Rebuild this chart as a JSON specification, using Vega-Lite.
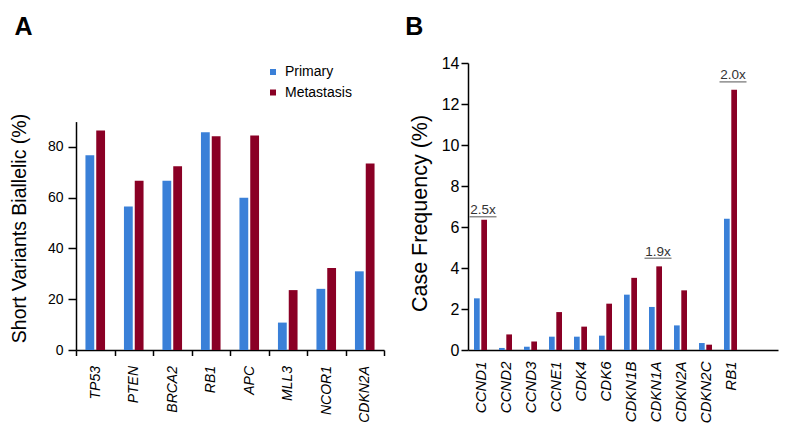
{
  "$schema": "https://vega.github.io/schema/vega-lite/v6.json",
  "background": "white",
  "padding": {"left": 9, "top": 15, "right": 5, "bottom": 5},
  "config": {
    "font": "Liberation Sans",
    "view": {"stroke": null},
    "axis": {
      "domainColor": "#000000",
      "domainWidth": 1.5,
      "tickColor": "#000000",
      "tickWidth": 1.5,
      "labelColor": "#000000",
      "titleColor": "#000000",
      "titleFontWeight": "normal",
      "grid": false
    }
  },
  "resolve": {"scale": {"xOffset": "independent"}, "legend": {"color": "independent"}},
  "datasets": {
    "a": [
      {"gene": "TP53", "group": "Primary", "value": 76.7},
      {"gene": "TP53", "group": "Metastasis", "value": 86.5},
      {"gene": "PTEN", "group": "Primary", "value": 56.5},
      {"gene": "PTEN", "group": "Metastasis", "value": 66.7},
      {"gene": "BRCA2", "group": "Primary", "value": 66.7},
      {"gene": "BRCA2", "group": "Metastasis", "value": 72.4},
      {"gene": "RB1", "group": "Primary", "value": 85.8},
      {"gene": "RB1", "group": "Metastasis", "value": 84.2},
      {"gene": "APC", "group": "Primary", "value": 60.0},
      {"gene": "APC", "group": "Metastasis", "value": 84.5},
      {"gene": "MLL3", "group": "Primary", "value": 10.8},
      {"gene": "MLL3", "group": "Metastasis", "value": 23.6},
      {"gene": "NCOR1", "group": "Primary", "value": 24.1},
      {"gene": "NCOR1", "group": "Metastasis", "value": 32.3},
      {"gene": "CDKN2A", "group": "Primary", "value": 31.0},
      {"gene": "CDKN2A", "group": "Metastasis", "value": 73.5}
    ],
    "b": [
      {"gene": "CCND1", "group": "Primary", "value": 2.52},
      {"gene": "CCND1", "group": "Metastasis", "value": 6.35},
      {"gene": "CCND2", "group": "Primary", "value": 0.1},
      {"gene": "CCND2", "group": "Metastasis", "value": 0.76},
      {"gene": "CCND3", "group": "Primary", "value": 0.16},
      {"gene": "CCND3", "group": "Metastasis", "value": 0.42},
      {"gene": "CCNE1", "group": "Primary", "value": 0.65},
      {"gene": "CCNE1", "group": "Metastasis", "value": 1.85},
      {"gene": "CDK4", "group": "Primary", "value": 0.65},
      {"gene": "CDK4", "group": "Metastasis", "value": 1.14},
      {"gene": "CDK6", "group": "Primary", "value": 0.7},
      {"gene": "CDK6", "group": "Metastasis", "value": 2.26},
      {"gene": "CDKN1B", "group": "Primary", "value": 2.7},
      {"gene": "CDKN1B", "group": "Metastasis", "value": 3.52},
      {"gene": "CDKN1A", "group": "Primary", "value": 2.1},
      {"gene": "CDKN1A", "group": "Metastasis", "value": 4.08},
      {"gene": "CDKN2A", "group": "Primary", "value": 1.2},
      {"gene": "CDKN2A", "group": "Metastasis", "value": 2.91},
      {"gene": "CDKN2C", "group": "Primary", "value": 0.34},
      {"gene": "CDKN2C", "group": "Metastasis", "value": 0.26},
      {"gene": "RB1", "group": "Primary", "value": 6.4},
      {"gene": "RB1", "group": "Metastasis", "value": 12.7}
    ],
    "ann": [
      {"gene": "CCND1", "label": "2.5x", "y": 6.62},
      {"gene": "CDKN1A", "label": "1.9x", "y": 4.6},
      {"gene": "RB1", "label": "2.0x", "y": 13.2}
    ]
  },
  "spacing": 20,
  "hconcat": [
    {
      "width": 308,
      "height": 287,
      "title": {"text": "A", "fontSize": 25, "fontWeight": "bold", "anchor": "start", "frame": "bounds", "offset": 23, "dx": 5, "color": "#000000"},
      "data": {"name": "a"},
      "mark": {"type": "bar"},
      "encoding": {
        "x": {
          "field": "gene", "type": "nominal", "sort": null,
          "scale": {"paddingInner": 0, "paddingOuter": 0},
          "axis": {"title": null, "labelAngle": -90, "labelAlign": "right", "labelBaseline": "middle", "labelFontStyle": "italic", "labelFontSize": 14, "tickSize": 5.5, "labelPadding": 10, "tickBand": "extent"}
        },
        "xOffset": {
          "field": "group", "type": "nominal", "sort": ["Primary", "Metastasis"],
          "scale": {"paddingInner": 0.185, "paddingOuter": 0.875}
        },
        "y": {
          "field": "value", "type": "quantitative",
          "scale": {"domain": [0, 90], "nice": false, "range": [287, 58.6]},
          "axis": {"title": "Short Variants Biallelic (%)", "values": [0, 20, 40, 60, 80], "tickSize": 8, "labelPadding": 5, "labelFontSize": 14, "titleFontSize": 19.5, "titlePadding": 18, "titleY": 165}
        },
        "color": {
          "field": "group", "type": "nominal",
          "scale": {"domain": ["Primary", "Metastasis"], "range": ["#3a80d8", "#8a0025"]},
          "legend": {"title": null, "orient": "none", "legendX": 190, "legendY": 2, "symbolType": "square", "symbolSize": 36, "symbolStrokeWidth": 0, "labelFontSize": 14, "labelColor": "#000000", "rowPadding": 6.5, "labelOffset": 5}
        }
      }
    },
    {
      "width": 310,
      "height": 287,
      "title": {"text": "B", "fontSize": 25, "fontWeight": "bold", "anchor": "start", "frame": "bounds", "offset": 15, "dx": -4, "color": "#000000"},
      "layer": [
        {
          "data": {"name": "b"},
          "mark": {"type": "bar"},
          "encoding": {
            "x": {
              "field": "gene", "type": "nominal", "sort": null,
              "scale": {"domain": ["CCND1", "CCND2", "CCND3", "CCNE1", "CDK4", "CDK6", "CDKN1B", "CDKN1A", "CDKN2A", "CDKN2C", "RB1"], "paddingInner": 0, "paddingOuter": 0.7, "align": 0},
              "axis": {"title": null, "labelAngle": -90, "labelAlign": "right", "labelBaseline": "middle", "labelFontStyle": "italic", "labelFontSize": 15, "ticks": false, "tickSize": 0, "labelPadding": 11}
            },
            "xOffset": {
              "field": "group", "type": "nominal", "sort": ["Primary", "Metastasis"],
              "scale": {"paddingInner": 0.22, "paddingOuter": 0.82}
            },
            "y": {
              "field": "value", "type": "quantitative",
              "scale": {"domain": [0, 14], "nice": false},
              "axis": {"title": "Case Frequency (%)", "values": [0, 2, 4, 6, 8, 10, 12, 14], "tickSize": 7, "labelPadding": 2, "labelFontSize": 16, "titleFontSize": 21.5, "titlePadding": 10, "titleY": 150}
            },
            "color": {"field": "group", "type": "nominal", "legend": null}
          }
        },
        {
          "data": {"name": "ann"},
          "mark": {"type": "text", "fontSize": 13.5, "color": "#333333", "baseline": "alphabetic", "dx": 2.5},
          "encoding": {
            "x": {"field": "gene", "type": "nominal", "sort": null},
            "y": {"field": "y", "type": "quantitative"},
            "text": {"field": "label"}
          }
        },
        {
          "data": {"name": "ann"},
          "mark": {"type": "tick", "orient": "horizontal", "size": 27, "thickness": 1.2, "color": "#333333", "yOffset": 2.5, "xOffset": 2.5},
          "encoding": {
            "x": {"field": "gene", "type": "nominal", "sort": null},
            "y": {"field": "y", "type": "quantitative"}
          }
        }
      ]
    }
  ]
}
